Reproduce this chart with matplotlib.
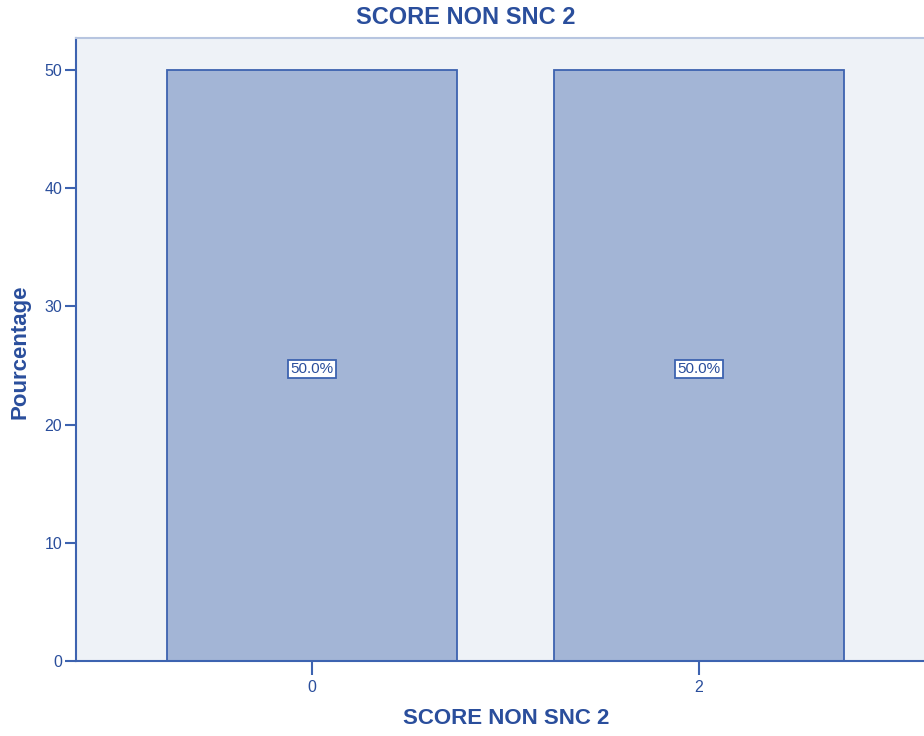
import matplotlib
matplotlib.use('Agg')
import matplotlib.pyplot as plt

plt.rcParams['font.family'] = ['Liberation Sans', 'DejaVu Sans']

categories = ['0', '2']
percentages = [50.0, 50.0]
yticks = [0, 10, 20, 30, 40, 50]

TXT = '#2a4e9c'
EDGE = '#3d63b0'
FILL = '#a3b5d6'
BG = '#eef2f7'

fig = plt.figure(figsize=(9.24, 7.36), dpi=100)
ax = fig.add_axes([76/924, 75/736, 859/924, 623/736])
ax.set_facecolor(BG)

x = list(range(len(categories)))
bars = ax.bar(x, percentages, width=0.75, color=FILL, edgecolor=EDGE, linewidth=1.3, zorder=2)
for xi, v in zip(x, percentages):
    ax.text(xi, v / 2 - 0.3, f'{v:.1f}%', ha='center', va='center', fontsize=11, color=TXT,
            bbox=dict(boxstyle='square,pad=0.15', facecolor='white', edgecolor=EDGE, linewidth=1.3),
            zorder=3)

ax.set_xlim(-0.61, 1.61)
ax.set_ylim(0, 52.7)
ax.set_xticks(x)
ax.set_xticklabels(categories)
ax.set_yticks(yticks)

ax.tick_params(axis='both', colors=EDGE, labelcolor=TXT, labelsize=11.5, width=1.5)
ax.tick_params(axis='y', length=8, pad=2)
ax.tick_params(axis='x', length=10, pad=4)

for s in ['left', 'bottom']:
    ax.spines[s].set_color(EDGE)
    ax.spines[s].set_linewidth(1.5)
ax.spines['top'].set_color('#b7c5e0')
ax.spines['top'].set_linewidth(1.5)
ax.spines['right'].set_visible(False)

# titles placed in figure pixels to match the original layout
fig.text(466/924, 1 - 18/736, 'SCORE NON SNC 2', ha='center', va='center',
         fontsize=17, fontweight='bold', color=TXT)
fig.text(506/924, 1 - 718/736, 'SCORE NON SNC 2', ha='center', va='center',
         fontsize=16, fontweight='bold', color=TXT)
fig.text(20/924, 1 - 352/736, 'Pourcentage', ha='center', va='center', rotation=90,
         fontsize=16, fontweight='bold', color=TXT)

fig.savefig('out.png', dpi=100)
